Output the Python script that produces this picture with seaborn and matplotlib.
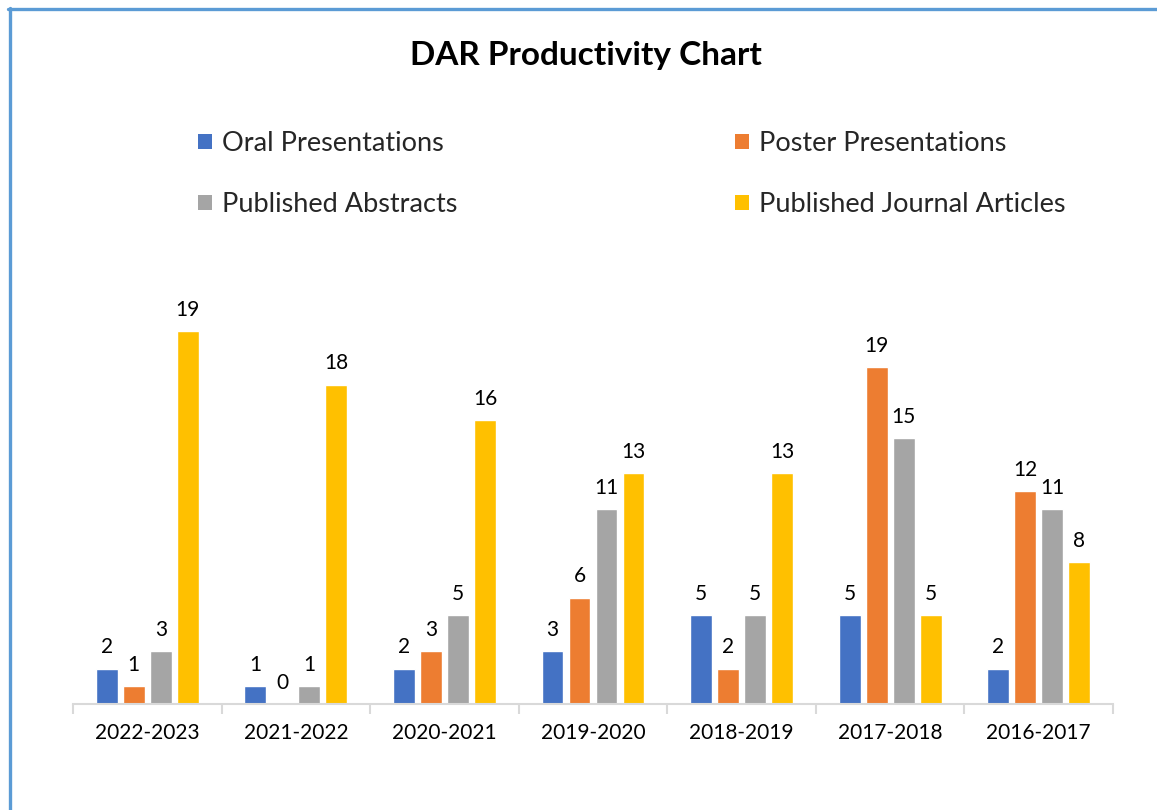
import matplotlib
matplotlib.use("Agg")
import matplotlib.pyplot as plt
import seaborn as sns
import pandas as pd
from matplotlib.lines import Line2D
from matplotlib.patches import Patch

years = ['2022-2023', '2021-2022', '2020-2021', '2019-2020', '2018-2019', '2017-2018', '2016-2017']
series = ['Oral Presentations', 'Poster Presentations', 'Published Abstracts', 'Published Journal Articles']
oral = [2, 1, 2, 3, 5, 5, 2]
poster = [1, 0, 3, 6, 2, 19, 12]
abstracts = [3, 1, 5, 11, 5, 15, 11]
journal = [21, 18, 16, 13, 13, 5, 8]          # drawn bar heights
journal_labels = [19, 18, 16, 13, 13, 5, 8]   # printed data labels
colors = ['#4472C4', '#ED7D31', '#A5A5A5', '#FFC000']

values = [oral, poster, abstracts, journal]
labels = [oral, poster, abstracts, journal_labels]

df = pd.DataFrame({
    'Year': [y for _ in series for y in years],
    'Series': [s for s in series for _ in years],
    'Value': [v for vals in values for v in vals],
})

sns.set_theme(style='white')
plt.rcParams['font.family'] = ['Lato', 'DejaVu Sans']

fig = plt.figure(figsize=(11.57, 8.1), dpi=100)
ax = fig.add_axes([73/1157, 1-704/810, 1040/1157, (704-260.25)/810])

sns.barplot(data=df, x='Year', y='Value', hue='Series', order=years, hue_order=series,
            palette=colors, width=0.727, gap=0.19, saturation=1, ax=ax, legend=False,
            errorbar=None)

for cont, labs in zip(ax.containers, labels):
    ax.bar_label(cont, labels=[str(l) for l in labs], padding=8, fontsize=15, color='#000000')

ax.set_ylim(0, 25)
ax.set_xlim(-0.5, 6.5)
ax.set_xlabel('')
ax.set_ylabel('')
ax.set_yticks([])
for s in ['top', 'right', 'left']:
    ax.spines[s].set_visible(False)
ax.spines['bottom'].set_color('#D9D9D9')
ax.spines['bottom'].set_linewidth(1.5)
ax.set_xticks(range(len(years)))
ax.set_xticklabels(years, fontsize=15, color='#000000')
ax.set_xticks([i - 0.5 for i in range(len(years) + 1)], minor=True)
ax.tick_params(axis='x', which='major', length=0, pad=14)
ax.tick_params(axis='x', which='minor', length=7, width=1.5, color='#D9D9D9', bottom=True)

fig.text(586/1157, 1-55/810, 'DAR Productivity Chart', ha='center', va='center',
         fontsize=24, fontweight='bold', color='#000000')

handles = [Patch(facecolor=c, edgecolor='none') for c in colors]
leg_kw = dict(frameon=False, fontsize=19.5, handlelength=0.52, handleheight=0.52,
              handletextpad=0.37, labelspacing=1.33, borderpad=0, borderaxespad=0,
              loc='upper left', bbox_transform=fig.transFigure)
leg1 = ax.legend([handles[0], handles[2]], [series[0], series[2]],
                 bbox_to_anchor=(198/1157, 1-131/810), **leg_kw)
ax.add_artist(leg1)
leg2 = ax.legend([handles[1], handles[3]], [series[1], series[3]],
                 bbox_to_anchor=(735/1157, 1-131/810), **leg_kw)

border = '#5B9BD5'
fig.add_artist(Line2D([9.5/1157, 9.5/1157], [0, 1-8/810], color=border, lw=2.4,
                      transform=fig.transFigure))
fig.add_artist(Line2D([8/1157, 1], [1-8.5/810, 1-8.5/810], color=border, lw=2.4,
                      transform=fig.transFigure))

fig.savefig('out.png', dpi=100, facecolor='white')
